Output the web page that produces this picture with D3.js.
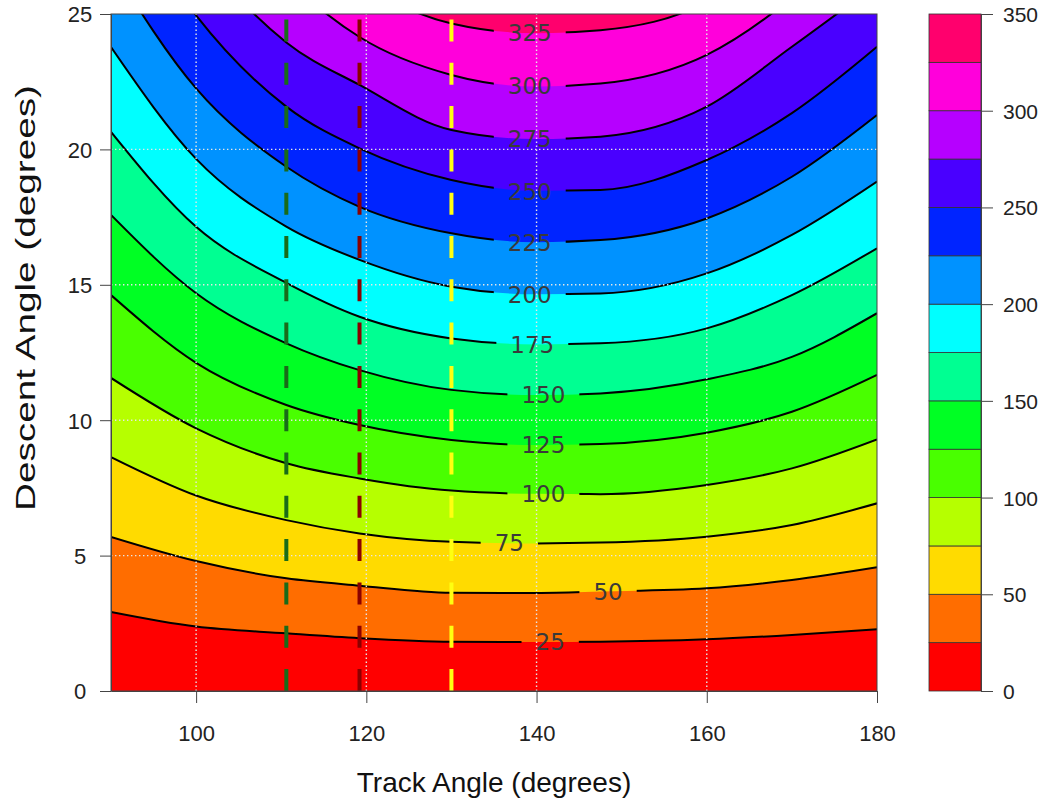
<!DOCTYPE html>
<html><head><meta charset="utf-8">
<script src="https://cdn.jsdelivr.net/npm/d3@7"></script>
<style>body{margin:0;background:#fff} svg{display:block}</style>
</head><body>
<svg id="c" width="1052" height="800"></svg>
<script>
// ---- data ----
const trackAngles = [90, 100, 110.6, 119.2, 130, 140, 147.5, 160, 170, 180];
const contourLevels = [25, 50, 75, 100, 125, 150, 175, 200, 225, 250, 275, 300, 325];
// descent angle of each contour level at the track angles above
const descent25  = [2.92, 2.38, 2.13, 1.95, 1.82, 1.81, 1.82, 1.91, 2.07, 2.28];
const descent50  = [5.69, 4.80, 4.16, 3.89, 3.63, 3.62, 3.67, 3.79, 4.10, 4.57];
const descent75  = [8.64, 7.22, 6.31, 5.82, 5.51, 5.45, 5.48, 5.70, 6.13, 6.93];
const descent100 = [11.56, 9.70, 8.41, 7.85, 7.40, 7.28, 7.27, 7.61, 8.22, 9.29];
const descent125 = [14.62, 12.12, 10.56, 9.82, 9.27, 9.08, 9.12, 9.54, 10.31, 11.67];
const descent150 = [17.58, 14.69, 12.84, 11.85, 11.12, 10.93, 10.99, 11.51, 12.34, 13.95];
const descent175 = [20.65, 17.14, 15.07, 13.82, 13.02, 12.80, 12.84, 13.39, 14.62, 16.35];
const descent200 = [23.78, 19.65, 17.15, 15.92, 14.93, 14.65, 14.68, 15.42, 16.84, 18.81];
const descent225 = [26.8, 22.25, 19.36, 17.88, 16.90, 16.57, 16.65, 17.45, 18.99, 21.27];
const descent250 = [29.8, 24.95, 21.58, 20.04, 18.87, 18.47, 18.50, 19.61, 21.34, 23.79];
const descent275 = [32.8, 27.5, 23.95, 22.38, 20.72, 20.38, 20.47, 21.58, 23.79, 26.1];
const descent300 = [36.0, 30.2, 26.3, 24.15, 22.75, 22.32, 22.43, 23.49, 25.6, 28.6];
const descent325 = [39.2, 33.0, 28.5, 26.2, 24.65, 24.29, 24.4, 25.45, 28.0, 31.2];

const bandBreaks = [0, 25, 50, 75, 100, 125, 150, 175, 200, 225, 250, 275, 300, 325, 350];
const bandColors = ["#FF0000","#FF6D00","#FFDB00","#B6FF00","#49FF00","#00FF24","#00FF92",
                    "#00FFFF","#0092FF","#0024FF","#4900FF","#B600FF","#FF00DB","#FF006D"];

const labelTrack   = [141.6, 148.4, 136.8, 140.8, 140.8, 140.8, 139.5, 139.2, 139.2, 139.2, 139.2, 139.2, 139.2];
const labelDescent = [1.81, 3.66, 5.46, 7.28, 9.08, 10.93, 12.78, 14.64, 16.56, 18.45, 20.38, 22.34, 24.30];

const xTicks = [100, 120, 140, 160, 180];
const yTicks = [0, 5, 10, 15, 20, 25];
const keyTicks = [0, 50, 100, 150, 200, 250, 300, 350];
const gridX = [100, 120, 140, 160];
const gridY = [5, 10, 15, 20];
const markerAngles = [110.6, 119.2, 130];
const markerColors = ["#196b19", "#8b0000", "#ffff10"];

// ---- drawing ----
const contourData = [descent25, descent50, descent75, descent100, descent125, descent150, descent175,
                     descent200, descent225, descent250, descent275, descent300, descent325];

const svg = d3.select("#c");
const L = 111, R = 877, T = 14, B = 691;
const x = d3.scaleLinear().domain([90, 180]).range([L, R]);
const y = d3.scaleLinear().domain([0, 25]).range([B, T]);
const curve = d3.curveMonotoneX;

const defs = svg.append("defs");
defs.append("clipPath").attr("id", "plotclip")
  .append("rect").attr("x", L).attr("y", T).attr("width", R - L).attr("height", B - T);

const plot = svg.append("g").attr("clip-path", "url(#plotclip)");
plot.append("rect").attr("x", L).attr("y", T).attr("width", R - L).attr("height", B - T)
  .attr("fill", bandColors[0]);

const area = d3.area().curve(curve).x((d, i) => x(trackAngles[i])).y0(y(50)).y1(d => y(d));
const line = d3.line().curve(curve).x((d, i) => x(trackAngles[i])).y(d => y(d));

contourData.forEach((vals, k) => {
  plot.append("path").attr("d", area(vals)).attr("fill", bandColors[k + 1]);
});

const mask = defs.append("mask").attr("id", "lblmask").attr("maskUnits", "userSpaceOnUse")
  .attr("x", 0).attr("y", 0).attr("width", 1052).attr("height", 800);
mask.append("rect").attr("x", 0).attr("y", 0).attr("width", 1052).attr("height", 800).attr("fill", "white");

const linesG = plot.append("g").attr("mask", "url(#lblmask)");
contourData.forEach(vals => {
  linesG.append("path").attr("d", line(vals)).attr("fill", "none")
    .attr("stroke", "#000").attr("stroke-width", 2);
});

const labelG = plot.append("g");
contourLevels.forEach((lev, i) => {
  const cx = x(labelTrack[i]), cy = y(labelDescent[i]);
  const t = labelG.append("text").attr("x", cx).attr("y", cy).attr("dy", "0.36em")
    .attr("text-anchor", "middle").attr("font-family", "DejaVu Sans").attr("font-size", 23)
    .attr("fill", "#3a3a3a").text(lev);
  const w = t.node().getComputedTextLength();
  mask.append("rect").attr("x", cx - w / 2 - 14).attr("y", cy - 9).attr("width", w + 28)
    .attr("height", 18).attr("fill", "black");
});

// grid
const gridG = plot.append("g").attr("stroke", "#e6e6e6").attr("stroke-width", 1.4)
  .attr("stroke-dasharray", "1.4,2.6");
gridX.forEach(v => gridG.append("line").attr("x1", x(v)).attr("x2", x(v)).attr("y1", B).attr("y2", T));
gridY.forEach(v => gridG.append("line").attr("x1", L).attr("x2", R).attr("y1", y(v)).attr("y2", y(v)));

// dashed marker lines
markerAngles.forEach((a, i) => {
  plot.append("line").attr("x1", x(a)).attr("x2", x(a)).attr("y1", y(0)).attr("y2", y(25))
    .attr("stroke", markerColors[i]).attr("stroke-width", 4).attr("stroke-dasharray", "22,21.3");
});

// box
svg.append("rect").attr("x", L).attr("y", T).attr("width", R - L).attr("height", B - T)
  .attr("fill", "none").attr("stroke", "#444").attr("stroke-width", 1);

// axes
const font = "Liberation Sans, Arial, sans-serif";
const xAxis = svg.append("g").attr("transform", `translate(0,${B})`)
  .call(d3.axisBottom(x).tickValues(xTicks).tickSize(12).tickSizeOuter(0).tickPadding(0));
xAxis.select(".domain").attr("stroke", "#444");
xAxis.selectAll(".tick line").attr("stroke", "#444");
xAxis.selectAll(".tick text").attr("font-family", font).attr("font-size", 22).attr("fill", "#222")
  .attr("y", 50).attr("dy", 0);

const yAxis = svg.append("g").attr("transform", `translate(${L},0)`)
  .call(d3.axisLeft(y).tickValues(yTicks).tickSize(11).tickSizeOuter(0));
yAxis.select(".domain").attr("stroke", "#444");
yAxis.selectAll(".tick line").attr("stroke", "#444");
yAxis.selectAll(".tick text").attr("font-family", font).attr("font-size", 22).attr("fill", "#222")
  .attr("text-anchor", "middle").attr("x", -31).attr("dy", "0.36em");

svg.append("text").attr("x", (L + R) / 2).attr("y", 792).attr("text-anchor", "middle")
  .attr("font-family", font).attr("font-size", 28).attr("fill", "#111").text("Track Angle (degrees)");
svg.append("text").attr("transform", "translate(35,298) rotate(-90)").attr("text-anchor", "middle")
  .attr("font-family", font).attr("font-size", 27).attr("fill", "#111")
  .attr("textLength", 426).attr("lengthAdjust", "spacingAndGlyphs").text("Descent Angle (degrees)");

// colour key
const KL = 929, KR = 981;
const yk = d3.scaleLinear().domain([0, 350]).range([B, T]);
const key = svg.append("g");
bandColors.forEach((c, i) => {
  key.append("rect").attr("x", KL).attr("width", KR - KL)
    .attr("y", yk(bandBreaks[i + 1])).attr("height", yk(bandBreaks[i]) - yk(bandBreaks[i + 1]))
    .attr("fill", c).attr("stroke", "#333").attr("stroke-width", 0.8);
});
const kAxis = svg.append("g").attr("transform", `translate(${KR},0)`)
  .call(d3.axisRight(yk).tickValues(keyTicks).tickSize(12).tickSizeOuter(0).tickPadding(10));
kAxis.select(".domain").attr("stroke", "#444");
kAxis.selectAll(".tick line").attr("stroke", "#444");
kAxis.selectAll(".tick text").attr("font-family", font).attr("font-size", 21).attr("fill", "#222")
  .attr("dy", "0.36em");
</script>
</body></html>
